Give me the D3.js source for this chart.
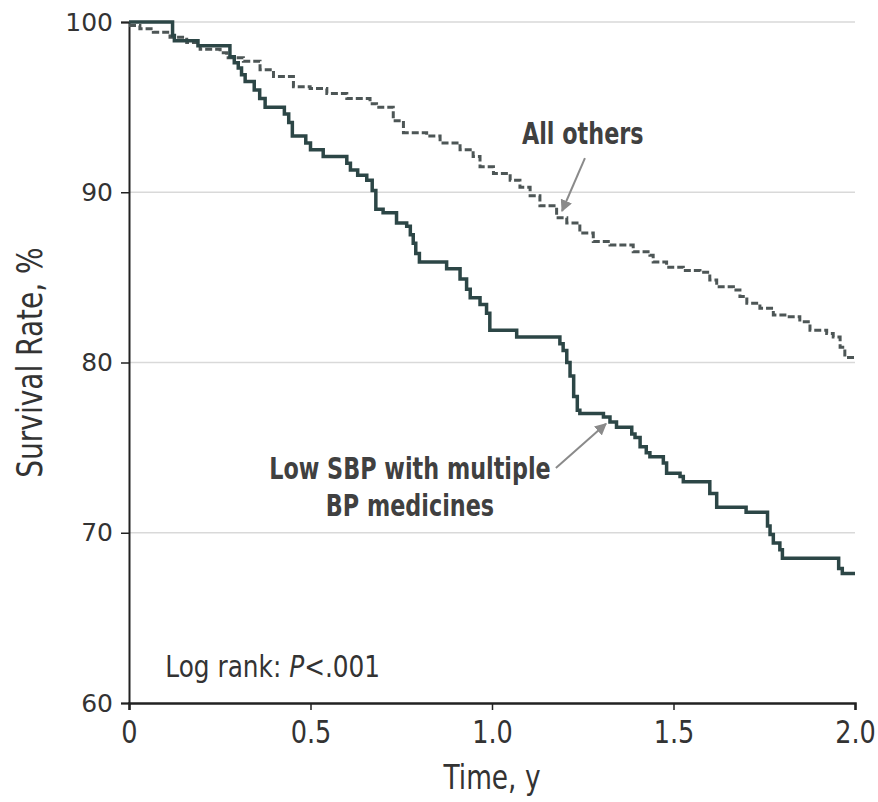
<!DOCTYPE html>
<html>
<head>
<meta charset="utf-8">
<script src="https://cdn.jsdelivr.net/npm/d3@7"></script>
<style>
  body { margin: 0; background: #fff; }
  text { font-family: "DejaVu Sans", sans-serif; }
</style>
</head>
<body>
<div id="main"></div>
<script>
// survival curves, time in years / survival in %
const lowSbpTime = [0, 0.12, 0.125, 0.19, 0.278, 0.29, 0.301, 0.31, 0.32, 0.345, 0.36, 0.375, 0.428, 0.44, 0.45, 0.487, 0.5, 0.535, 0.6, 0.61, 0.63, 0.655, 0.67, 0.68, 0.7, 0.737, 0.765, 0.775, 0.783, 0.79, 0.8, 0.875, 0.912, 0.93, 0.94, 0.967, 0.985, 0.994, 1.068, 1.187, 1.196, 1.206, 1.215, 1.225, 1.235, 1.242, 1.307, 1.325, 1.343, 1.385, 1.394, 1.408, 1.425, 1.435, 1.472, 1.481, 1.518, 1.527, 1.6, 1.619, 1.7, 1.759, 1.766, 1.775, 1.793, 1.8, 1.955, 1.965, 2.0]
const lowSbpRate = [100, 99.2, 98.9, 98.6, 97.96, 97.6, 97.3, 96.9, 96.5, 96.0, 95.5, 95.0, 94.6, 94.1, 93.3, 92.9, 92.5, 92.1, 91.7, 91.3, 91.0, 90.7, 90.1, 89.0, 88.8, 88.2, 88.0, 87.5, 87.0, 86.4, 85.9, 85.5, 84.9, 84.3, 83.8, 83.4, 82.9, 81.9, 81.5, 81.1, 80.7, 80.0, 79.2, 78.0, 77.2, 77.0, 76.8, 76.5, 76.2, 75.8, 75.6, 75.05, 74.7, 74.47, 74.1, 73.5, 73.3, 73.0, 72.3, 71.5, 71.2, 70.4, 69.9, 69.4, 69.0, 68.5, 67.9, 67.6, 67.6]

const othersTime = [0, 0.03, 0.067, 0.113, 0.159, 0.196, 0.251, 0.269, 0.315, 0.361, 0.398, 0.453, 0.499, 0.545, 0.6, 0.664, 0.682, 0.728, 0.756, 0.82, 0.857, 0.912, 0.948, 0.967, 1.004, 1.05, 1.077, 1.105, 1.132, 1.178, 1.206, 1.242, 1.279, 1.325, 1.389, 1.435, 1.444, 1.481, 1.527, 1.573, 1.6, 1.619, 1.665, 1.683, 1.702, 1.738, 1.775, 1.812, 1.848, 1.876, 1.922, 1.94, 1.959, 1.972, 2.0]
const othersRate = [99.8, 99.6, 99.4, 99.1, 98.8, 98.4, 98.2, 97.9, 97.7, 97.2, 96.8, 96.2, 96.1, 95.8, 95.5, 95.2, 95.0, 94.2, 93.5, 93.3, 92.9, 92.5, 92.1, 91.5, 91.1, 90.7, 90.3, 89.8, 89.2, 88.5, 88.2, 87.6, 87.1, 86.9, 86.5, 86.3, 85.9, 85.6, 85.4, 85.3, 84.85, 84.45, 84.26, 83.87, 83.48, 83.18, 82.79, 82.69, 82.4, 81.9, 81.7, 81.5, 80.9, 80.3, 80.25]

const xTicks = [0, 0.5, 1.0, 1.5, 2.0]
const xTickLabels = ["0", "0.5", "1.0", "1.5", "2.0"]
const yTicks = [60, 70, 80, 90, 100]

const W = 878, H = 802
const margin = { left: 129, right: 23, top: 22, bottom: 99 }
const squeeze = 0.8 // no condensed face installed, so squash horizontally

const svg = d3.select("#main").append("svg").attr("width", W).attr("height", H)

const x = d3.scaleLinear().domain([0, 2]).range([margin.left, W - margin.right])
const y = d3.scaleLinear().domain([60, 100]).range([H - margin.bottom, margin.top])

// grid
svg.append("g").selectAll("line").data(yTicks.filter(d => d > 60)).enter().append("line")
  .attr("x1", x(0)).attr("x2", x(2))
  .attr("y1", d => y(d)).attr("y2", d => y(d))
  .attr("stroke", "#d9d9d9").attr("stroke-width", 1.5)

// y axis
const yAxis = svg.append("g").attr("transform", `translate(${x(0)},0)`)
  .call(d3.axisLeft(y).tickValues(yTicks).tickSize(8).tickPadding(8))
yAxis.select(".domain").attr("stroke", "#222").attr("stroke-width", 2)
yAxis.selectAll(".tick line").attr("stroke", "#222").attr("stroke-width", 1.5)
yAxis.selectAll(".tick text").attr("font-family", "DejaVu Sans, sans-serif").attr("font-size", 25).attr("fill", "#333")

// x axis
const xAxis = svg.append("g").attr("transform", `translate(0,${y(60)})`)
  .call(d3.axisBottom(x).tickValues(xTicks).tickFormat((d, i) => xTickLabels[i]).tickSize(7).tickPadding(10))
xAxis.select(".domain").attr("stroke", "#222").attr("stroke-width", 2.5)
xAxis.selectAll(".tick line").attr("stroke", "#222").attr("stroke-width", 1.5)
xAxis.selectAll(".tick text").attr("font-size", 32).attr("fill", "#333")
  .attr("transform", `scale(${squeeze},1)`)

// titles
svg.append("text")
  .attr("transform", `translate(${(x(0) + x(2)) / 2},789) scale(${squeeze},1)`)
  .attr("text-anchor", "middle").attr("font-size", 33).attr("fill", "#333")
  .text("Time, y")
svg.append("text")
  .attr("transform", `translate(42,${y(80)}) rotate(-90) scale(${squeeze},1)`)
  .attr("text-anchor", "middle").attr("font-size", 35).attr("fill", "#333")
  .text("Survival Rate, %")

// curves
const line = d3.line().x(d => x(d[0])).y(d => y(d[1])).curve(d3.curveStepAfter)
svg.append("path").datum(d3.zip(othersTime, othersRate))
  .attr("d", line).attr("fill", "none")
  .attr("stroke", "#4d5656").attr("stroke-width", 3).attr("stroke-dasharray", "7,3")
svg.append("path").datum(d3.zip(lowSbpTime, lowSbpRate))
  .attr("d", line).attr("fill", "none")
  .attr("stroke", "#2c4646").attr("stroke-width", 3.5)

// annotations
svg.append("defs").append("marker").attr("id", "arr")
  .attr("viewBox", "0 0 10 10").attr("refX", 9).attr("refY", 5)
  .attr("markerWidth", 6).attr("markerHeight", 6).attr("orient", "auto")
  .append("path").attr("d", "M0,0 L10,5 L0,10 z").attr("fill", "#8a8a8a")

svg.append("text")
  .attr("transform", `translate(${x(1.25)},${y(93.5) + 11}) scale(0.72,1)`)
  .attr("text-anchor", "middle").attr("font-size", 31).attr("font-weight", "bold").attr("fill", "#404040")
  .text("All others")
svg.append("line")
  .attr("x1", x(1.256)).attr("y1", y(92.0)).attr("x2", x(1.193)).attr("y2", y(88.9))
  .attr("stroke", "#8a8a8a").attr("stroke-width", 2).attr("marker-end", "url(#arr)")

const lowLbl = svg.append("text")
  .attr("transform", `translate(${x(0.774)},${y(73.8)}) scale(0.72,1)`)
  .attr("text-anchor", "middle").attr("font-size", 31).attr("font-weight", "bold").attr("fill", "#404040")
lowLbl.append("tspan").attr("x", 0).attr("y", 11).text("Low SBP with multiple")
lowLbl.append("tspan").attr("x", 0).attr("y", 48).text("BP medicines")
svg.append("line")
  .attr("x1", x(1.176)).attr("y1", y(73.8)).attr("x2", x(1.314)).attr("y2", y(76.4))
  .attr("stroke", "#8a8a8a").attr("stroke-width", 2).attr("marker-end", "url(#arr)")

const lr = svg.append("text")
  .attr("transform", `translate(${x(0.1)},${y(62.2) + 11}) scale(${squeeze},1)`)
  .attr("font-size", 31).attr("fill", "#333")
lr.append("tspan").text("Log rank: ")
lr.append("tspan").attr("font-style", "italic").text("P")
lr.append("tspan").text("<.001")
</script>
</body>
</html>
